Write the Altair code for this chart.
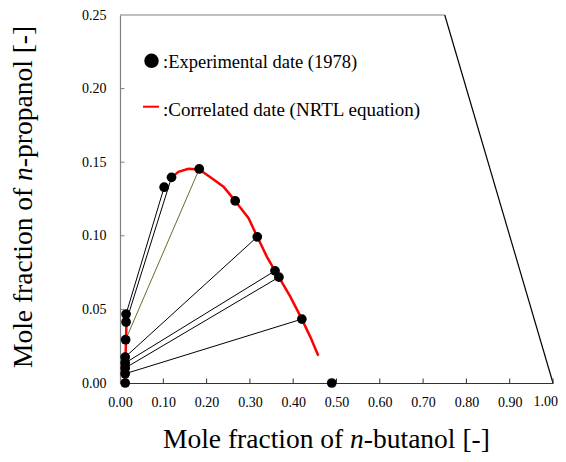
import altair as alt
import pandas as pd

# water-rich phase (left ends of tie lines)
aq_butanol = [0.014, 0.014, 0.013, 0.012, 0.012, 0.012, 0.012, 0.012]
aq_propanol = [0.0468, 0.0414, 0.0294, 0.0176, 0.0136, 0.0102, 0.0063, 0.0]
# butanol-rich phase (right ends of tie lines)
org_butanol = [0.102, 0.119, 0.183, 0.317, 0.358, 0.367, 0.420, 0.489]
org_propanol = [0.133, 0.1397, 0.1454, 0.0993, 0.0762, 0.0719, 0.0434, 0.0]
# experimental point without tie line
extra_butanol = [0.266]
extra_propanol = [0.1237]
# tie lines drawn (index pairs of aq/org), colour of each
tie_index = [0, 1, 2, 3, 4, 5, 6]
tie_colors = ["black", "black", "#6b6b2e", "black", "black", "black", "black"]

# NRTL correlated binodal curve (two visible pieces)
nrtl_left_butanol = [0.012, 0.013, 0.013, 0.014, 0.015]
nrtl_left_propanol = [0.0, 0.01, 0.02, 0.03, 0.042]
nrtl_right_butanol = [0.119, 0.135, 0.158, 0.183, 0.208, 0.239, 0.258, 0.266, 0.297,
                      0.317, 0.339, 0.358, 0.367, 0.393, 0.420, 0.44, 0.458]
nrtl_right_propanol = [0.1397, 0.1435, 0.1455, 0.145, 0.140, 0.1334, 0.1266, 0.1237, 0.112,
                       0.0993, 0.0859, 0.0762, 0.0719, 0.0588, 0.0434, 0.031, 0.0185]

# ternary boundary (x_butanol + x_propanol = 1) and top edge
edge_butanol = [0.0, 0.75, 0.75, 1.0]
edge_propanol = [0.25, 0.25, 0.25, 0.0]
edge_seg = ["top", "top", "diag", "diag"]
edge_color = ["#808080", "#808080", "black", "black"]

x_ticks = [0.0, 0.1, 0.2, 0.3, 0.4, 0.5, 0.6, 0.7, 0.8, 0.9, 1.0]
y_ticks = [0.0, 0.05, 0.10, 0.15, 0.20, 0.25]
last_x_label = "1.00"

FONT = "Liberation Serif"
W, H = 433, 368

xs = alt.Scale(domain=[0, 1], nice=False)
ys = alt.Scale(domain=[0, 0.25], nice=False)

edges = pd.DataFrame({"bu": edge_butanol, "pr": edge_propanol, "seg": edge_seg, "col": edge_color})
ties_rows = []
for k, i in enumerate(tie_index):
    ties_rows.append({"tie": k, "bu": aq_butanol[i], "pr": aq_propanol[i], "col": tie_colors[k]})
    ties_rows.append({"tie": k, "bu": org_butanol[i], "pr": org_propanol[i], "col": tie_colors[k]})
ties = pd.DataFrame(ties_rows)

curve_rows = []
for j, (b, p) in enumerate(zip(nrtl_left_butanol, nrtl_left_propanol)):
    curve_rows.append({"seg": "L", "ord": j, "bu": b, "pr": p})
for j, (b, p) in enumerate(zip(nrtl_right_butanol, nrtl_right_propanol)):
    curve_rows.append({"seg": "R", "ord": j, "bu": b, "pr": p})
curve = pd.DataFrame(curve_rows)

pts = pd.DataFrame({
    "bu": aq_butanol + org_butanol + extra_butanol,
    "pr": aq_propanol + org_propanol + extra_propanol,
})

xaxis = alt.Axis(values=x_ticks, format=".2f", ticks=False, grid=False, title=None,
                 labelFont=FONT, labelFontSize=14, labelColor="black",
                 domainColor="#333333", domainWidth=1.2, labelPadding=12, labelFlush=False,
                 labelExpr="datum.value >= 1 ? '' : datum.label")
yaxis = alt.Axis(values=y_ticks, format=".2f", ticks=False, grid=False, title=None,
                 labelFont=FONT, labelFontSize=14, labelColor="black",
                 domainColor="#808080", domainWidth=1.2, labelPadding=14)

edge_layer = alt.Chart(edges).mark_line(strokeWidth=1.2).encode(
    x=alt.X("bu:Q", scale=xs, axis=xaxis),
    y=alt.Y("pr:Q", scale=ys, axis=yaxis),
    detail="seg:N",
    color=alt.Color("col:N", scale=None),
)

tie_layer = alt.Chart(ties).mark_line(strokeWidth=1).encode(
    x="bu:Q", y="pr:Q", detail="tie:N", color=alt.Color("col:N", scale=None)
)

curve_layer = alt.Chart(curve).mark_line(color="#ff0000", strokeWidth=2.5).encode(
    x="bu:Q", y="pr:Q", detail="seg:N", order="ord:Q"
)

pt_layer = alt.Chart(pts).mark_circle(size=95, color="black", opacity=1).encode(
    x="bu:Q", y="pr:Q"
)

xt = pd.DataFrame({"bu": x_ticks[1:]})
xtick_layer = alt.Chart(xt).mark_rule(color="#333333", strokeWidth=1).encode(
    x="bu:Q", y=alt.value(H), y2=alt.value(H - 4.5)
)
yt = pd.DataFrame({"pr": y_ticks[1:-1]})
ytick_layer = alt.Chart(yt).mark_rule(color="#808080", strokeWidth=1).encode(
    y="pr:Q", x=alt.value(0), x2=alt.value(4.5)
)

one = pd.DataFrame({"a": [0]})
last_lab = alt.Chart(one).mark_text(text=last_x_label, align="right", baseline="top",
                                    font=FONT, fontSize=14, color="black").encode(
    x=alt.value(W + 5), y=alt.value(H + 12)
)
leg_pt = alt.Chart(one).mark_point(filled=True, shape="circle", size=210, color="black", opacity=1).encode(
    x=alt.value(31.5), y=alt.value(45.8)
)
leg_line = alt.Chart(one).mark_rule(color="#ff0000", strokeWidth=2).encode(
    x=alt.value(23), x2=alt.value(39), y=alt.value(91.7)
)
leg_t1 = alt.Chart(one).mark_text(text=":Experimental date (1978)", align="left", baseline="alphabetic",
                                  font=FONT, fontSize=18.5, color="black").encode(
    x=alt.value(43), y=alt.value(53.3)
)
leg_t2 = alt.Chart(one).mark_text(text=":Correlated date (NRTL equation)", align="left", baseline="alphabetic",
                                  font=FONT, fontSize=19, color="black").encode(
    x=alt.value(43), y=alt.value(101)
)

TS = 27.5
def txt(s, x, y, italic=False, angle=0):
    kw = dict(text=s, align="left", baseline="alphabetic", font=FONT, fontSize=TS, color="black")
    if italic:
        kw["fontStyle"] = "italic"
    if angle:
        kw["angle"] = angle
    return alt.Chart(one).mark_text(**kw).encode(x=alt.value(x), y=alt.value(y))

w1 = 6.554 * TS
sp = 0.25 * TS
nw = 0.5 * TS
x0 = 43
xy = 433
xt1 = txt("Mole fraction of", x0, xy)
xt2 = txt("n", x0 + w1 + sp, xy, italic=True)
xt3 = txt("-butanol [-]", x0 + w1 + sp + nw, xy)

y0 = 353
yx = -88
yt1 = txt("Mole fraction of", yx, y0, angle=270)
yt2 = txt("n", yx, y0 - w1 - sp, italic=True, angle=270)
yt3 = txt("-propanol [-]", yx, y0 - w1 - sp - nw, angle=270)

chart = alt.layer(
    edge_layer, tie_layer, curve_layer, pt_layer, xtick_layer, ytick_layer, last_lab,
    leg_pt, leg_line, leg_t1, leg_t2, xt1, xt2, xt3, yt1, yt2, yt3
).properties(
    width=W, height=H,
    autosize=alt.AutoSizeParams(type="none"),
    padding={"left": 112, "top": 7, "right": 5, "bottom": 71},
    background="white",
).configure_view(stroke=None)

chart.save("out.html", embed_options={"renderer": "svg", "actions": False})
